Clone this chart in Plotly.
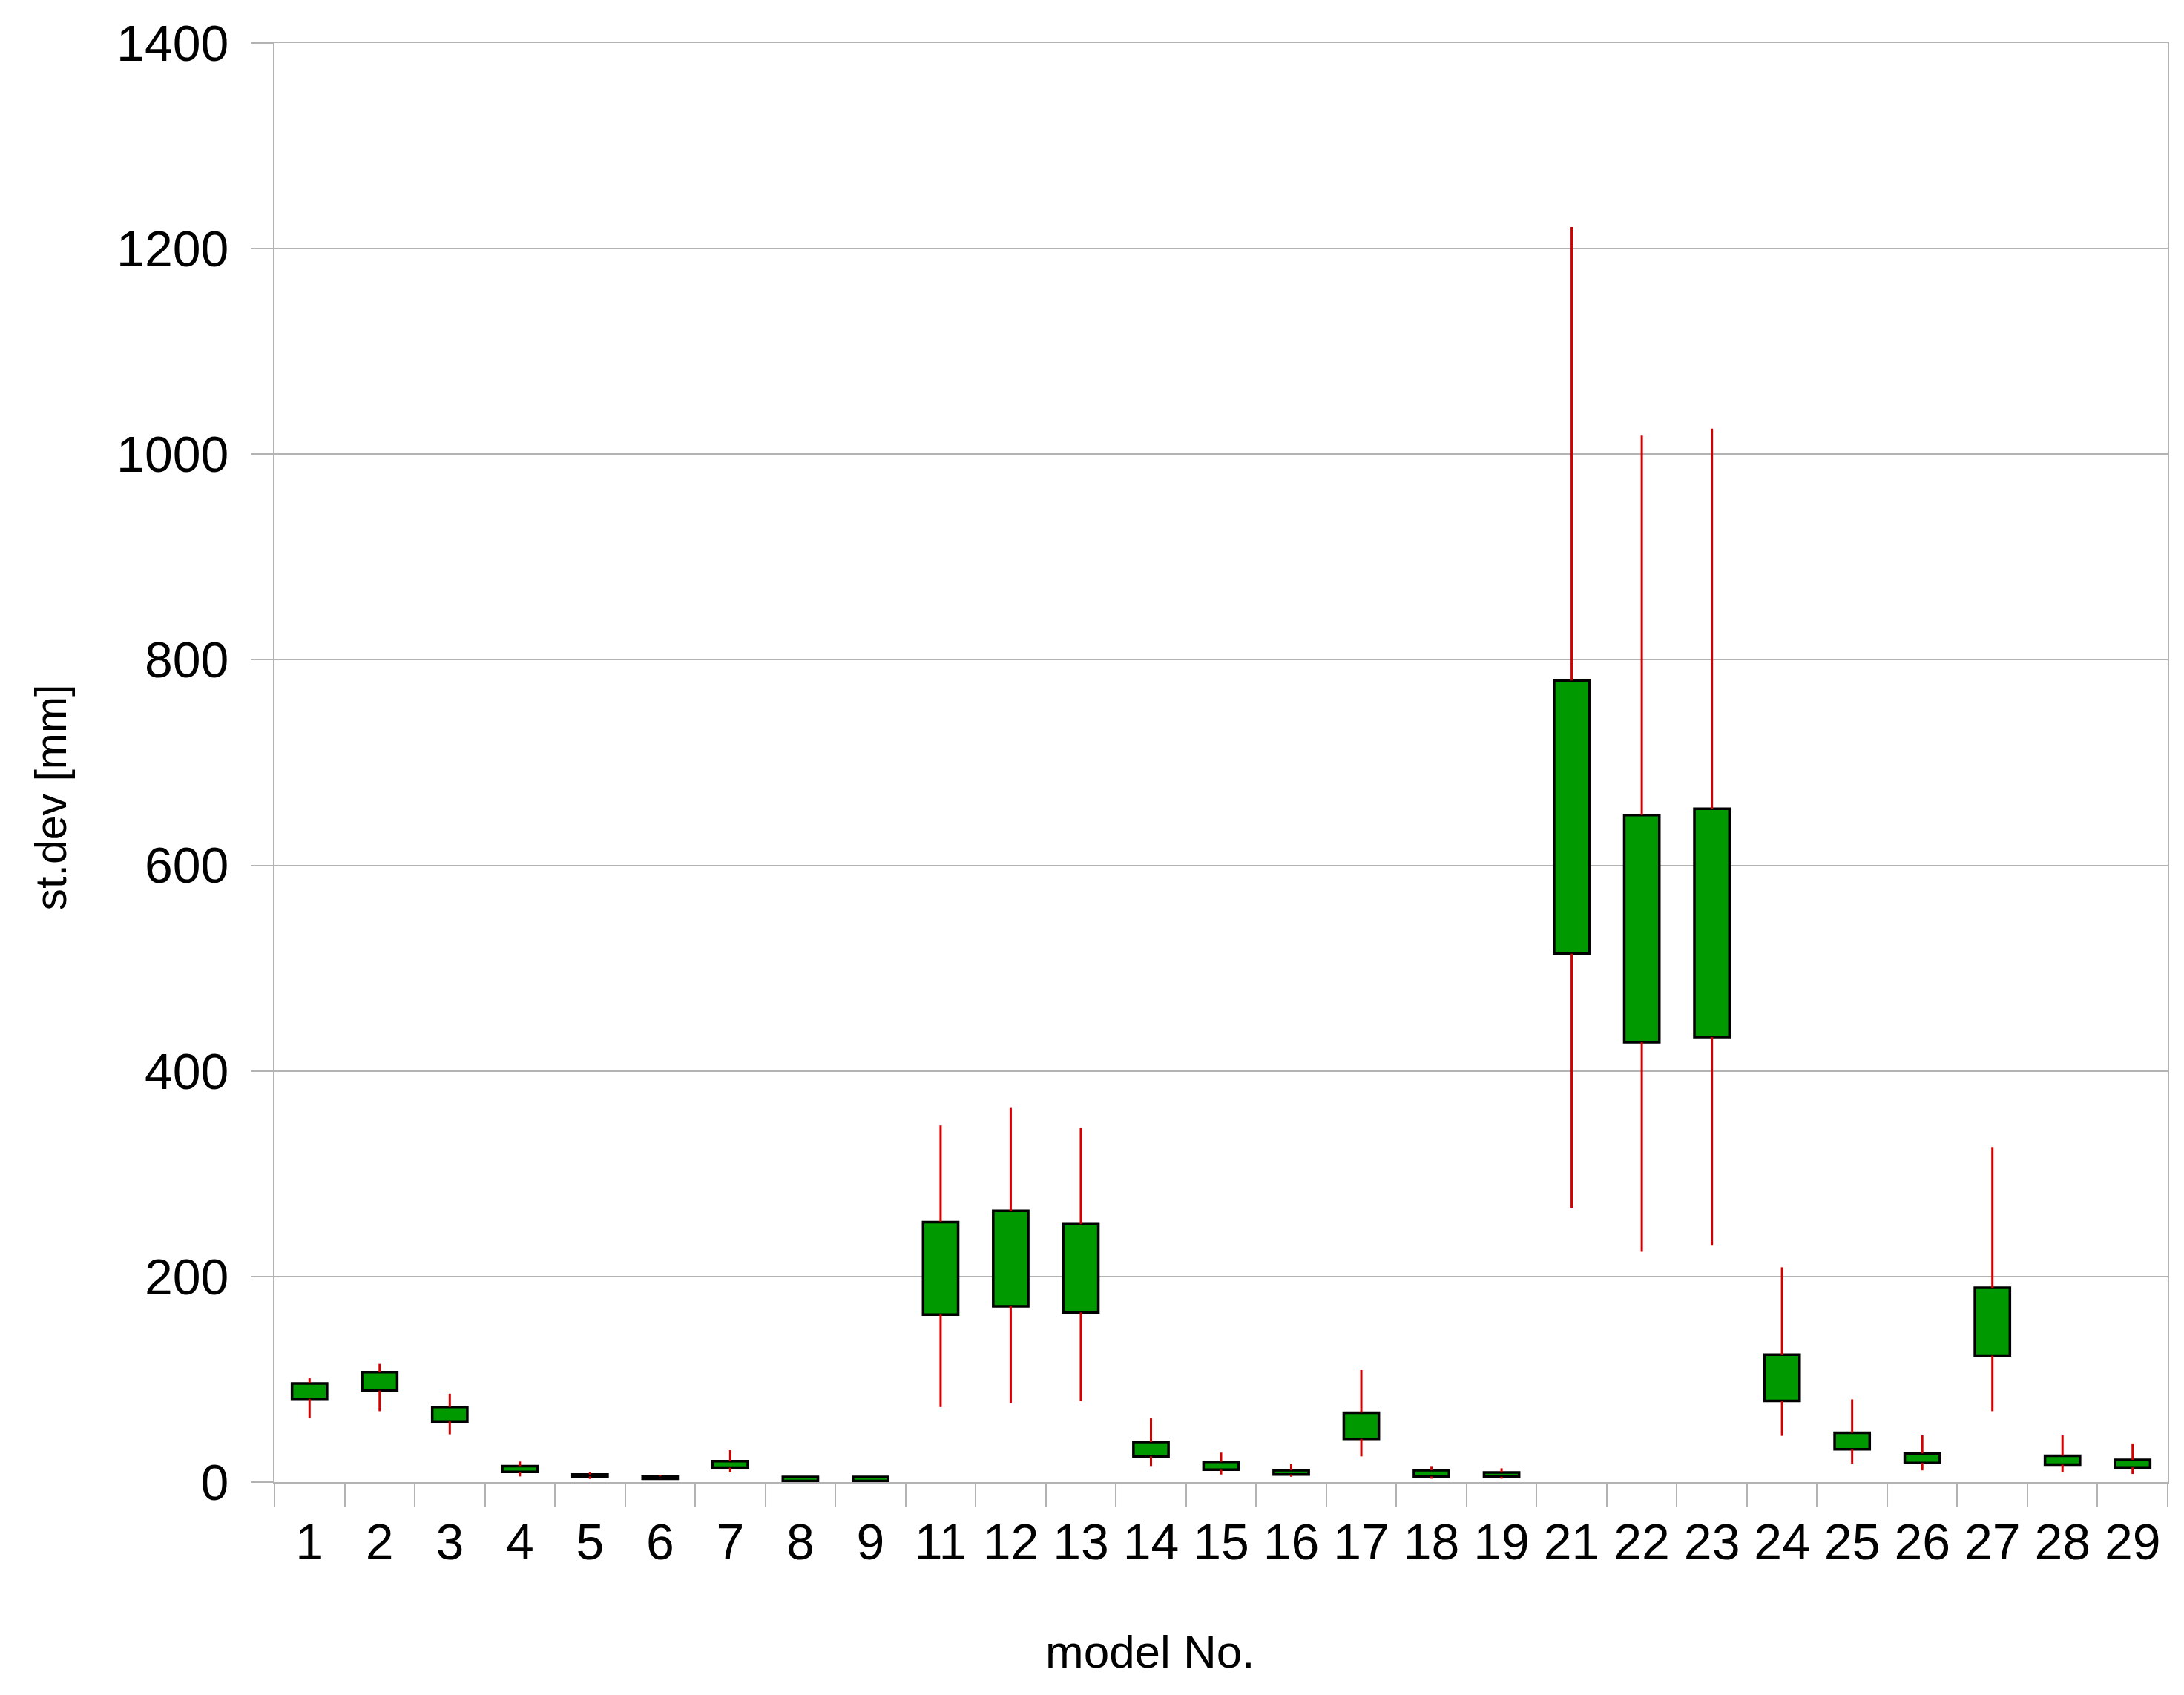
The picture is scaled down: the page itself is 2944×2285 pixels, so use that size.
import plotly.graph_objects as go

models = ['1', '2', '3', '4', '5', '6', '7', '8', '9', '11', '12', '13', '14', '15', '16',
          '17', '18', '19', '21', '22', '23', '24', '25', '26', '27', '28', '29']
box_low = [81, 89, 59, 10, 5.5, 3.3, 14, 1, 1, 163, 171, 165, 25, 12, 7.4,
           42, 5.5, 5.2, 514, 428, 433, 79, 32, 18.6, 123, 17, 14.3]
box_high = [96, 107, 73, 15.5, 7.4, 5.5, 20.3, 5, 5, 253, 264, 251, 39, 19.7, 11.5,
            67.5, 11.5, 9.3, 780, 649, 655, 124, 48, 28, 189, 25.7, 21.7]
whisk_low = [62, 69, 46.5, 5.5, 3.1, 3.1, 9.5, 1, 1, 73, 77, 79, 15.6, 7.4, 5.2,
             25, 3.3, 3.3, 267, 224, 230, 45, 18, 11.4, 69, 9.8, 7.9]
whisk_high = [101, 115, 86, 20, 9.5, 7.2, 31, 5, 5, 347, 364, 345, 62, 28.7, 17.5,
              109, 15.6, 13.4, 1221, 1018, 1025, 209, 80.5, 45.5, 326, 45.5, 37.6]
y_ticks = [0, 200, 400, 600, 800, 1000, 1200, 1400]

# page is offset by the browser's 8px body margin
W, H = 2928, 2269
ML, MR, MT, MB = 362, 13, 41, 279

# whisker segments (below and above each box)
wx, wy = [], []
for m, lo, bl, bh, hi in zip(models, whisk_low, box_low, box_high, whisk_high):
    wx += [m, m, None, m, m, None]
    wy += [lo, bl, None, bh, hi, None]

fig = go.Figure()
fig.add_trace(go.Bar(
    x=models,
    y=[h - l for h, l in zip(box_high, box_low)],
    base=box_low,
    width=0.5,
    marker=dict(color='#009900', line=dict(color='#000000', width=3.5)),
    showlegend=False,
))
fig.add_trace(go.Scatter(
    x=wx, y=wy, mode='lines',
    line=dict(color='#d40000', width=3),
    showlegend=False, hoverinfo='skip',
))

grid = '#b3b3b3'
tickfont = dict(family='Liberation Sans, Arial', size=68, color='#000000')
PH = H - MT - MB
PW = W - ML - MR
fig.update_layout(
    width=W, height=H,
    margin=dict(l=ML, r=MR, t=MT, b=MB, pad=0),
    paper_bgcolor='white', plot_bgcolor='white',
    bargap=0.5,
    xaxis=dict(
        type='category', categoryorder='array', categoryarray=models,
        tickson='boundaries', ticks='outside', ticklen=32, tickwidth=2, tickcolor=grid,
        showline=True, linecolor=grid, linewidth=2, mirror=True,
        showgrid=False, tickfont=tickfont, ticklabelstandoff=20,
    ),
    yaxis=dict(
        range=[0, 1400], tickvals=y_ticks, ticktext=[str(v) for v in y_ticks],
        ticks='outside', ticklen=30, tickwidth=2, tickcolor=grid,
        showline=True, linecolor=grid, linewidth=2, mirror=True,
        showgrid=True, gridcolor=grid, gridwidth=2, zeroline=False,
        tickfont=tickfont, ticklabelstandoff=16,
    ),
    annotations=[
        dict(text='model No.', xref='paper', yref='paper',
             x=(1543 - ML) / PW, y=-(2220 - (H - MB)) / PH,
             xanchor='center', yanchor='middle', showarrow=False,
             font=dict(family='Liberation Sans, Arial', size=62, color='#000000')),
        dict(text='st.dev [mm]', xref='paper', yref='paper',
             x=-(ML - 61) / PW, y=((H - MB) - 1063) / PH,
             xanchor='center', yanchor='middle', showarrow=False, textangle=-90,
             font=dict(family='Liberation Sans, Arial', size=59, color='#000000')),
    ],
)

fig.write_html('out.html')
